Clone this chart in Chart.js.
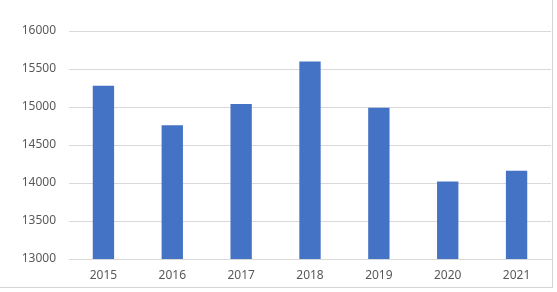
<!DOCTYPE html>
<html>
<head>
<meta charset="utf-8">
<script src="https://cdn.jsdelivr.net/npm/chart.js@4"></script>
<style>
  body { margin: 0; background: #fff; }
  .box { position: relative; width: 552px; height: 287px; border-right: 1px solid #d4d4d4; border-bottom: 1px solid #d4d4d4; }
</style>
</head>
<body>
<div class="box"><canvas id="myChart"></canvas></div>
<script>
// values
const years = ['2015', '2016', '2017', '2018', '2019', '2020', '2021'];
const amounts = [15280, 14760, 15040, 15600, 14990, 14020, 14160];
const yMin = 13000, yMax = 16000, yStep = 500;

const ctx = document.getElementById('myChart').getContext('2d');
const myChart = new Chart(ctx, {
    type: 'bar',
    data: {
        labels: years,
        datasets: [{
            data: amounts,
            backgroundColor: '#4472C4',
            categoryPercentage: 1,
            barPercentage: 0.31
        }]
    },
    options: {
        responsive: true,
        maintainAspectRatio: false,
        animation: false,
        layout: { padding: { top: 31, right: 1, left: 0, bottom: 0 } },
        plugins: { legend: { display: false }, tooltip: { enabled: false } },
        scales: {
            x: {
                grid: { display: false, drawTicks: false },
                border: { color: '#d9d9d9' },
                ticks: { color: '#595959', padding: 9, font: { family: 'Noto Sans', size: 12 } },
                afterFit: scale => { scale.height = 28; }
            },
            y: {
                min: yMin,
                max: yMax,
                grid: { color: '#d9d9d9', drawTicks: false },
                border: { display: false },
                ticks: {
                    stepSize: yStep,
                    color: '#595959',
                    padding: 13,
                    font: { family: 'Noto Sans', size: 12 },
                    callback: value => String(value)
                },
                afterFit: scale => { scale.width = 69; }
            }
        }
    }
});
</script>
</body>
</html>
